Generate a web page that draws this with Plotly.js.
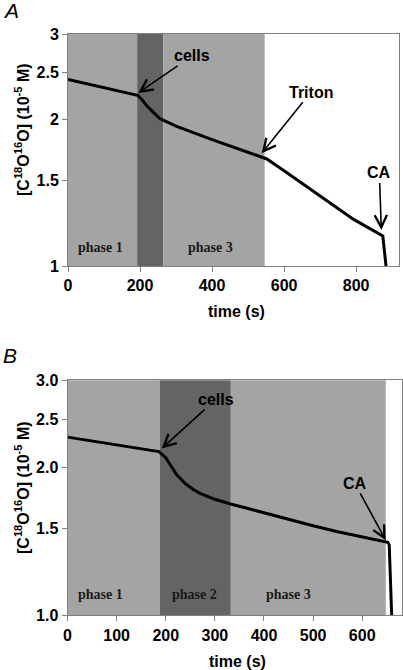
<!DOCTYPE html>
<html>
<head>
<meta charset="utf-8">
<script src="https://cdn.plot.ly/plotly-3.0.1.min.js"></script>
<style>html,body{margin:0;padding:0;background:#fff;}#chart{width:403px;height:670px;}</style>
</head>
<body>
<div id="chart"></div>
<script>
// ---- Panel A data ----
const timeA = [0, 100, 193, 205, 220, 240, 255, 270, 300, 400, 500, 533, 545, 552, 600, 644, 700, 737, 793, 874, 883];
const concA = [2.42, 2.33, 2.244, 2.20, 2.13, 2.06, 2.01, 1.985, 1.94, 1.82, 1.715, 1.678, 1.665, 1.66, 1.57, 1.49, 1.395, 1.335, 1.247, 1.153, 1.0];
const phasesA = [
  {start: 0, end: 192, shade: 'light'},
  {start: 192, end: 265, shade: 'dark'},
  {start: 265, end: 546, shade: 'light'}
];
const phaseLabelsA = ['phase 1', 'phase 3'];
const phaseLabelXA = [91, 396];
const eventsA = [
  {text: 'cells', t: 195, c: 2.27},
  {text: 'Triton', t: 538, c: 1.705},
  {text: 'CA', t: 870, c: 1.186}
];
const yTicksA = [1, 1.5, 2, 2.5, 3];
const yTickTextA = ['1', '1.5', '2', '2.5', '3'];
const xTicksA = [0, 200, 400, 600, 800];

// ---- Panel B data ----
const timeB = [0, 100, 186, 200, 222, 240, 256, 270, 300, 332, 371, 391, 450, 500, 548, 600, 652, 655, 660];
const concB = [2.30, 2.22, 2.15, 2.09, 1.93, 1.85, 1.80, 1.768, 1.72, 1.683, 1.643, 1.622, 1.564, 1.52, 1.48, 1.441, 1.407, 1.39, 1.0];
const phasesB = [
  {start: 0, end: 187.5, shade: 'light'},
  {start: 187.5, end: 332.5, shade: 'dark'},
  {start: 332.5, end: 648, shade: 'light'}
];
const phaseLabelsB = ['phase 1', 'phase 2', 'phase 3'];
const phaseLabelXB = [67.5, 259, 450];
const eventsB = [
  {text: 'cells', t: 191.6, c: 2.18},
  {text: 'CA', t: 648, c: 1.42}
];
const yTicksB = [1, 1.5, 2, 2.5, 3];
const yTickTextB = ['1.0', '1.5', '2.0', '2.5', '3.0'];
const xTicksB = [0, 100, 200, 300, 400, 500, 600];

// ---- styles ----
const LIGHT = '#a4a4a4', DARK = '#646464';
const W = 403, H = 670;
const sans = 'Liberation Sans, Arial, sans-serif';
const serif = 'Liberation Serif, Times New Roman, serif';
const boldFont = {family: sans, size: 16, color: '#000', weight: 'bold'};

function axisX(domain, range, ticks, anchor) {
  return {domain, range, tickvals: ticks, ticktext: ticks.map(String), anchor,
    showline: true, mirror: true, linecolor: '#808080', linewidth: 1,
    ticks: 'outside', ticklen: 5, tickcolor: '#808080', showgrid: false, zeroline: false,
    tickfont: boldFont, fixedrange: true};
}
function axisY(domain, ticks, tickText, anchor) {
  return {domain, type: 'log', range: [0, Math.log10(3)], tickvals: ticks, ticktext: tickText, anchor,
    showline: true, mirror: true, linecolor: '#808080', linewidth: 1,
    ticks: 'outside', ticklen: 5, tickcolor: '#808080', showgrid: false, zeroline: false,
    tickfont: boldFont, fixedrange: true};
}

const traces = [
  {x: timeA, y: concA, xaxis: 'x', yaxis: 'y', mode: 'lines', line: {color: '#000', width: 3}, hoverinfo: 'skip'},
  {x: timeB, y: concB, xaxis: 'x2', yaxis: 'y2', mode: 'lines', line: {color: '#000', width: 3}, hoverinfo: 'skip'}
];

const shapes = [];
phasesA.forEach(p => shapes.push({type: 'rect', xref: 'x', yref: 'y domain', x0: p.start, x1: p.end, y0: 0, y1: 1,
  fillcolor: p.shade === 'dark' ? DARK : LIGHT, line: {width: 0}, layer: 'below'}));
phasesB.forEach(p => shapes.push({type: 'rect', xref: 'x2', yref: 'y2 domain', x0: p.start, x1: p.end, y0: 0, y1: 1,
  fillcolor: p.shade === 'dark' ? DARK : LIGHT, line: {width: 0}, layer: 'below'}));

const annotations = [];
// arrow offsets (pixels) for event labels
const offA = [[54, -37], [49, -61], [-2, -57]];
const offB = [[54, -49], [-31, -57]];
eventsA.forEach((e, i) => annotations.push({xref: 'x', yref: 'y', x: e.t, y: Math.log10(e.c), text: e.text,
  showarrow: true, arrowhead: 5, arrowsize: 1.5, arrowwidth: 1.6, arrowcolor: '#000', standoff: 0,
  ax: offA[i][0], ay: offA[i][1], font: boldFont}));
eventsB.forEach((e, i) => annotations.push({xref: 'x2', yref: 'y2', x: e.t, y: Math.log10(e.c), text: e.text,
  showarrow: true, arrowhead: 5, arrowsize: 1.5, arrowwidth: 1.6, arrowcolor: '#000', standoff: 0,
  ax: offB[i][0], ay: offB[i][1], font: boldFont}));
const phaseFont = {family: serif, size: 14, color: '#1a1a1a', weight: 'bold'};
phaseLabelsA.forEach((t, i) => annotations.push({xref: 'x', yref: 'y', x: phaseLabelXA[i], y: Math.log10(1.093),
  text: t, showarrow: false, font: phaseFont}));
phaseLabelsB.forEach((t, i) => annotations.push({xref: 'x2', yref: 'y2', x: phaseLabelXB[i], y: Math.log10(1.10),
  text: t, showarrow: false, font: phaseFont}));

// panel letters
annotations.push({xref: 'paper', yref: 'paper', x: 1 / W, y: 1 - 10 / H, xanchor: 'left', yanchor: 'middle', text: 'A',
  showarrow: false, font: {family: sans, size: 21, color: '#000', style: 'italic'}});
annotations.push({xref: 'paper', yref: 'paper', x: 1 / W, y: 1 - 355 / H, xanchor: 'left', yanchor: 'middle', text: 'B',
  showarrow: false, font: {family: sans, size: 21, color: '#000', style: 'italic'}});
// y titles
const yTitle = '[C<sup>18</sup>O<sup>16</sup>O] (10<sup>-5</sup> M)';
annotations.push({xref: 'paper', yref: 'paper', x: 22 / W, y: 1 - 130 / H, xanchor: 'center', yanchor: 'middle',
  text: yTitle, textangle: -90, showarrow: false, font: boldFont});
annotations.push({xref: 'paper', yref: 'paper', x: 22 / W, y: 1 - 488 / H, xanchor: 'center', yanchor: 'middle',
  text: yTitle, textangle: -90, showarrow: false, font: boldFont});
// x titles
annotations.push({xref: 'paper', yref: 'paper', x: 236 / W, y: 1 - 311 / H, xanchor: 'center', yanchor: 'middle',
  text: 'time (s)', showarrow: false, font: boldFont});
annotations.push({xref: 'paper', yref: 'paper', x: 237 / W, y: 1 - 661 / H, xanchor: 'center', yanchor: 'middle',
  text: 'time (s)', showarrow: false, font: boldFont});

const layout = {
  width: W, height: H,
  margin: {l: 0, r: 0, t: 0, b: 0},
  paper_bgcolor: '#fff', plot_bgcolor: '#fff',
  showlegend: false,
  xaxis: axisX([68 / W, 399 / W], [0, 919], xTicksA, 'y'),
  yaxis: axisY([1 - 266 / H, 1 - 34 / H], yTicksA, yTickTextA, 'x'),
  xaxis2: axisX([67.5 / W, 401.5 / W], [0, 680], xTicksB, 'y2'),
  yaxis2: axisY([1 - 615.3 / H, 1 - 380.3 / H], yTicksB, yTickTextB, 'x2'),
  shapes, annotations
};

Plotly.newPlot('chart', traces, layout, {displayModeBar: false, staticPlot: true});
</script>
</body>
</html>
